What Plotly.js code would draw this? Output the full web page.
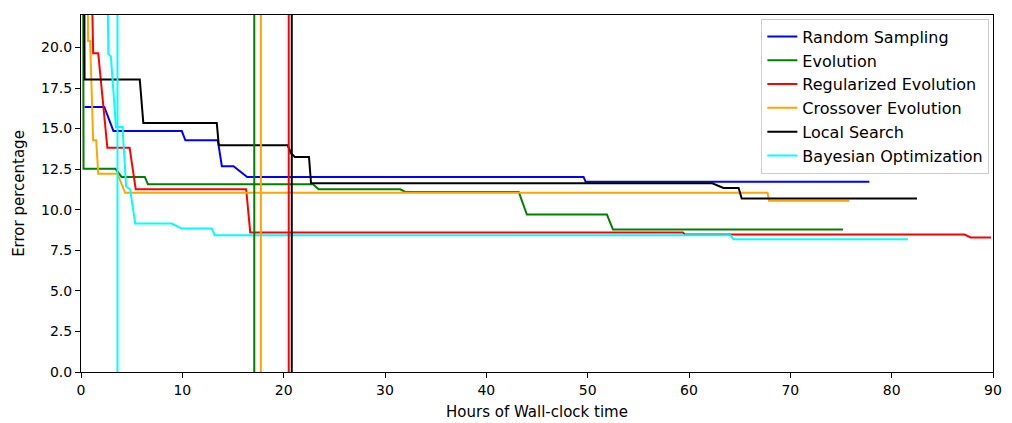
<!DOCTYPE html>
<html>
<head>
<meta charset="utf-8">
<script src="https://cdn.plot.ly/plotly-3.0.1.min.js"></script>
<style>html,body{margin:0;padding:0;background:#fff;}#chart{width:1012px;height:423px;}</style>
</head>
<body>
<div id="chart"></div>
<script>
// Series names and colours
const seriesNames = ["Random Sampling", "Evolution", "Regularized Evolution", "Crossover Evolution", "Local Search", "Bayesian Optimization"];
const seriesColors = ["#0000ff", "#008000", "#ff0000", "#ffa500", "#000000", "#00ffff"];

// Random Sampling
const rsHours = [0.35, 2.3, 3.2, 9.95, 10.3, 13.5, 13.9, 15.05, 16.4, 49.6, 49.8, 77.8];
const rsError = [16.33, 16.33, 14.85, 14.85, 14.28, 14.28, 12.68, 12.68, 12.02, 12.02, 11.72, 11.72];

// Evolution
const evHours = [0.2, 0.25, 3.4, 4.0, 6.3, 6.6, 22.9, 23.45, 31.5, 32.0, 43.2, 44.0, 51.9, 52.5, 75.2];
const evError = [30, 12.53, 12.53, 12.02, 12.02, 11.57, 11.57, 11.26, 11.26, 11.1, 11.1, 9.7, 9.7, 8.78, 8.78];

// Regularized Evolution
const reHours = [1.0, 1.2, 1.7, 2.6, 4.8, 5.4, 16.3, 16.7, 59.4, 59.6, 87.2, 87.8, 89.8];
const reError = [26, 19.65, 19.65, 13.82, 13.82, 11.26, 11.26, 8.6, 8.6, 8.47, 8.47, 8.29, 8.29];

// Crossover Evolution
const ceHours = [0.6, 0.7, 0.9, 1.2, 1.5, 1.7, 3.6, 4.35, 67.75, 67.9, 75.8];
const ceError = [30, 20.4, 20.4, 14.28, 14.28, 12.22, 12.22, 11.04, 11.04, 10.56, 10.56];

// Local Search
const lsHours = [0.3, 0.35, 5.8, 6.15, 13.4, 13.6, 20.4, 20.7, 21.1, 22.5, 22.7, 62.3, 63.4, 64.9, 65.2, 82.5];
const lsError = [30, 18.03, 18.03, 15.34, 15.34, 13.97, 13.97, 13.5, 13.25, 13.25, 11.63, 11.63, 11.34, 11.34, 10.69, 10.69];

// Bayesian Optimization
const boHours = [2.5, 2.7, 2.95, 3.45, 4.1, 4.45, 4.85, 5.35, 8.96, 9.95, 12.9, 13.2, 64.1, 64.4, 81.6];
const boError = [30, 19.6, 19.45, 15.1, 15.1, 11.45, 11.25, 9.15, 9.15, 8.84, 8.84, 8.43, 8.43, 8.18, 8.18];

// Vertical marker lines (hours), one per method
const vlineHours = [3.6, 17.1, 17.75, 20.5, 20.8];
const vlineColors = ["#00ffff", "#008000", "#ffa500", "#ff0000", "#000000"];

// Axis ticks
const xTicks = [0, 10, 20, 30, 40, 50, 60, 70, 80, 90];
const yTicks = [0, 2.5, 5, 7.5, 10, 12.5, 15, 17.5, 20];

const xs = [rsHours, evHours, reHours, ceHours, lsHours, boHours];
const ys = [rsError, evError, reError, ceError, lsError, boError];

const traces = seriesNames.map((n, i) => ({
  type: "scatter", mode: "lines", name: n,
  x: xs[i], y: ys[i],
  line: {color: seriesColors[i], width: 2},
  cliponaxis: true
}));

const shapes = vlineHours.map((h, i) => ({
  type: "line", xref: "x", yref: "paper", x0: h, x1: h, y0: 0, y1: 1,
  line: {color: vlineColors[i], width: 2}, layer: "above"
}));

const font = "DejaVu Sans, sans-serif";
const layout = {
  width: 1012, height: 423,
  margin: {l: 81, r: 19, t: 15, b: 51},
  paper_bgcolor: "#fff", plot_bgcolor: "#fff",
  font: {family: font, size: 14, color: "#000"},
  showlegend: true,
  legend: {
    x: 0.996, y: 0.99, xanchor: "right", yanchor: "top",
    bgcolor: "rgba(255,255,255,0.8)", bordercolor: "#cccccc", borderwidth: 1,
    font: {family: font, size: 16, color: "#000"},
    tracegroupgap: 0
  },
  xaxis: {
    range: [0, 90], tickvals: xTicks, ticktext: xTicks.map(String),
    showgrid: false, zeroline: false,
    showline: true, mirror: true, linecolor: "#000", linewidth: 1,
    ticks: "outside", ticklen: 5, tickcolor: "#000", tickwidth: 1,
    tickfont: {family: font, size: 14},
    title: {text: "Hours of Wall-clock time", font: {family: font, size: 15}, standoff: 9},
    automargin: false
  },
  yaxis: {
    range: [0, 22], tickvals: yTicks, ticktext: yTicks.map(v => v.toFixed(1)),
    showgrid: false, zeroline: false,
    showline: true, mirror: true, linecolor: "#000", linewidth: 1,
    ticks: "outside", ticklen: 5, tickcolor: "#000", tickwidth: 1,
    tickfont: {family: font, size: 14},
    title: {text: "Error percentage", font: {family: font, size: 15}, standoff: 12},
    automargin: false
  },
  shapes: shapes
};

Plotly.newPlot("chart", traces, layout, {staticPlot: true, displayModeBar: false});
</script>
</body>
</html>
